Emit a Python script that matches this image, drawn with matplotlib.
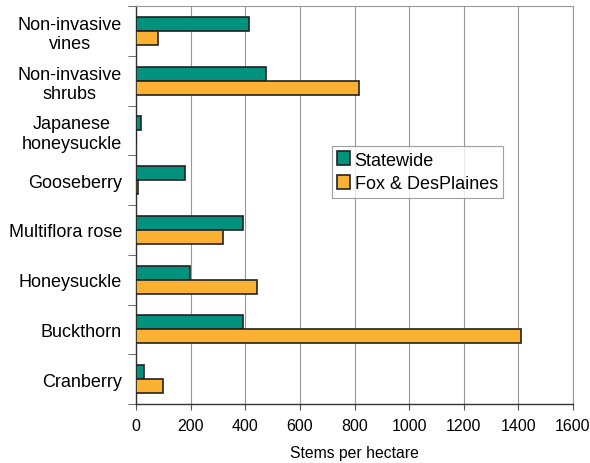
import matplotlib
matplotlib.use("Agg")
import matplotlib.pyplot as plt
import numpy as np

plt.rcParams['font.family'] = ['Liberation Sans', 'DejaVu Sans']

categories = ["Non-invasive\nvines", "Non-invasive\nshrubs", "Japanese\nhoneysuckle",
              "Gooseberry", "Multiflora rose", "Honeysuckle", "Buckthorn", "Cranberry"]
statewide = [415, 476, 20, 180, 390, 199, 390, 29]
foxdes = [82, 815, 0, 9, 318, 444, 1410, 98]
xticks = [0, 200, 400, 600, 800, 1000, 1200, 1400, 1600]

teal = "#00927c"
orange = "#fbb233"

fig = plt.figure(figsize=(5.9, 4.64), dpi=100)
ax = fig.add_axes([136/590, 1-405/464, (573-136)/590, (405-7)/464])

y = np.arange(len(categories))
h = 0.28
ax.barh(y - h/2, statewide, height=h, color=teal, edgecolor="#222222", linewidth=1.2,
        label="Statewide", zorder=3)
ax.barh(y + h/2, foxdes, height=h, color=orange, edgecolor="#222222", linewidth=1.2,
        label="Fox & DesPlaines", zorder=3)

ax.set_ylim(len(categories) - 0.5, -0.5)
ax.set_xlim(0, 1600)
ax.set_xticks(xticks)
ax.set_xticklabels([str(v) for v in xticks], fontsize=11.5)
ax.set_yticks(y)
ax.set_yticklabels(categories, fontsize=13, linespacing=1.2, multialignment='center')
ax.tick_params(axis='y', length=0, pad=10)
ax.tick_params(axis='x', length=4, color="#555555", direction='out', pad=6)
# minor ticks at category boundaries on left
ax.set_yticks(np.arange(-0.5, len(categories), 1), minor=True)
ax.tick_params(axis='y', which='minor', length=6, color="#555555", direction='out')

ax.grid(axis='x', color="#999999", linewidth=0.8, zorder=0)
for s in ['left', 'bottom']:
    ax.spines[s].set_color("#333333")
    ax.spines[s].set_linewidth(1.0)
for s in ['top', 'right']:
    ax.spines[s].set_color("#999999")
    ax.spines[s].set_linewidth(0.8)
    ax.spines[s].set_linestyle((0, (1, 1)))

ax.set_xlabel("Stems per hectare", fontsize=11.3, labelpad=9)

leg = ax.legend(loc='upper left', bbox_to_anchor=((332-136)/437, (405-147)/398),
                fontsize=13, frameon=True, fancybox=False, edgecolor="#888888",
                handlelength=0.7, handleheight=0.8, handletextpad=0.25,
                borderpad=0.3, labelspacing=0.35, borderaxespad=0)
leg.get_frame().set_linewidth(0.8)

fig.savefig("out.png", dpi=100)
